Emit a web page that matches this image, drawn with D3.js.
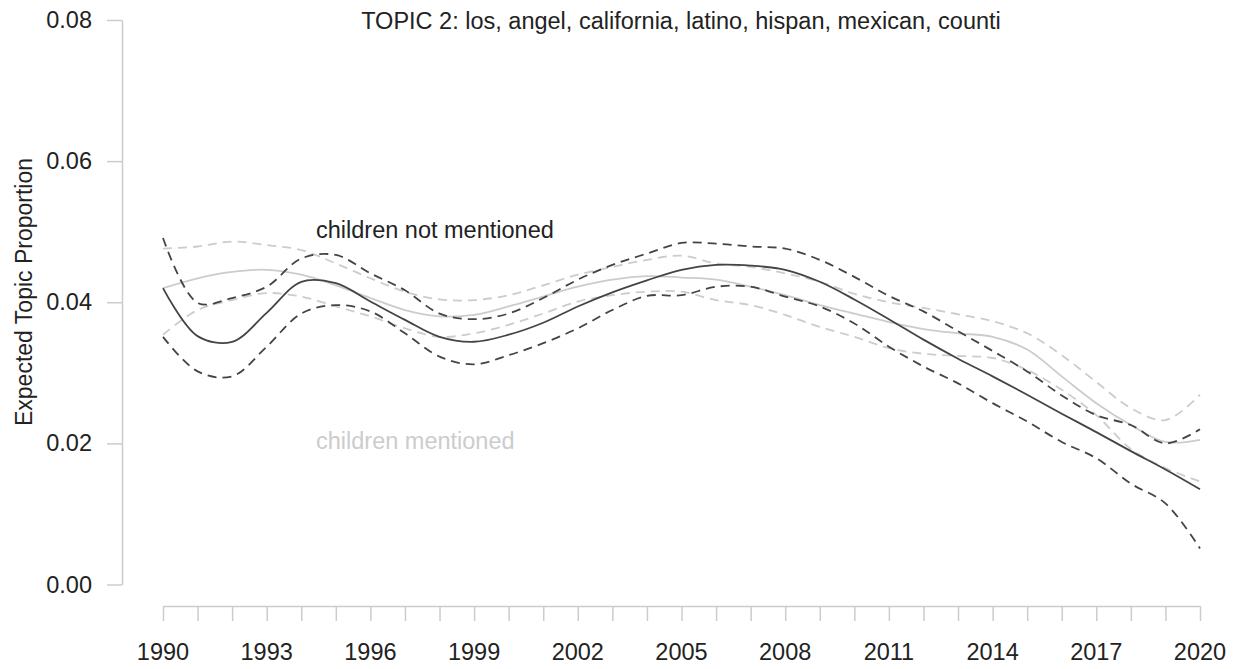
<!DOCTYPE html>
<html>
<head>
<meta charset="utf-8">
<script src="https://cdn.jsdelivr.net/npm/d3@7"></script>
<style>
  body { margin: 0; background: #fff; }
  text { font-family: "Liberation Sans", Arial, sans-serif; }
</style>
</head>
<body>
<div id="chart"></div>
<script>
// years 1990..2020
var years = d3.range(1990, 2021);
var xTickLabels = [1990, 1993, 1996, 1999, 2002, 2005, 2008, 2011, 2014, 2017, 2020];
var yTicks = [0, 0.02, 0.04, 0.06, 0.08];

// children not mentioned
var notMean = [0.0420, 0.0352, 0.0344, 0.0385, 0.0429, 0.0427, 0.0401, 0.0375, 0.0351, 0.0344, 0.0354,
    0.0371, 0.0394, 0.0414, 0.0431, 0.0446, 0.0453, 0.0452, 0.0446, 0.0429, 0.0404,
    0.0376, 0.0347, 0.0320, 0.0295, 0.0269, 0.0242, 0.0216, 0.0189, 0.0163, 0.0135];
var notUpper = [0.0491, 0.0399, 0.0406, 0.0422, 0.0462, 0.0467, 0.0441, 0.0417, 0.0384, 0.0376, 0.0384,
    0.0406, 0.0432, 0.0453, 0.0469, 0.0484, 0.0483, 0.0479, 0.0476, 0.0460, 0.0436,
    0.0409, 0.0387, 0.0359, 0.0331, 0.0302, 0.0268, 0.0240, 0.0226, 0.0200, 0.0220];
var notLower = [0.0351, 0.0302, 0.0295, 0.0337, 0.0384, 0.0396, 0.0387, 0.0356, 0.0323, 0.0312, 0.0325,
    0.0342, 0.0363, 0.0389, 0.0409, 0.0410, 0.0422, 0.0422, 0.0408, 0.0394, 0.0370,
    0.0337, 0.0309, 0.0285, 0.0257, 0.0231, 0.0202, 0.0179, 0.0143, 0.0115, 0.0051];

// children mentioned
var menMean = [0.0420, 0.0434, 0.0443, 0.0446, 0.0439, 0.0424, 0.0406, 0.0389, 0.0380, 0.0382, 0.0394,
    0.0408, 0.0422, 0.0432, 0.0437, 0.0435, 0.0432, 0.0422, 0.0410, 0.0396, 0.0384,
    0.0372, 0.0362, 0.0356, 0.0351, 0.0333, 0.0295, 0.0257, 0.0226, 0.0202, 0.0205];
var menUpper = [0.0476, 0.0479, 0.0486, 0.0481, 0.0474, 0.0455, 0.0434, 0.0415, 0.0404, 0.0403, 0.0410,
    0.0424, 0.0439, 0.0450, 0.0460, 0.0466, 0.0455, 0.0450, 0.0441, 0.0429, 0.0412,
    0.0400, 0.0392, 0.0383, 0.0373, 0.0356, 0.0325, 0.0287, 0.0250, 0.0233, 0.0269];
var menLower = [0.0354, 0.0389, 0.0403, 0.0413, 0.0408, 0.0394, 0.0380, 0.0363, 0.0351, 0.0356, 0.0368,
    0.0384, 0.0401, 0.0410, 0.0415, 0.0415, 0.0403, 0.0396, 0.0382, 0.0365, 0.0351,
    0.0335, 0.0327, 0.0324, 0.0321, 0.0304, 0.0276, 0.0240, 0.0192, 0.0165, 0.0146];

var width = 1236, height = 669;
var axisColor = '#cccccc';
var dark = '#444444', light = '#cccccc';
var textColor = '#222222';

var svg = d3.select('#chart').append('svg')
    .attr('width', width)
    .attr('height', height);

var x = d3.scaleLinear().domain([1990, 2020]).range([163, 1200]);
var y = d3.scaleLinear().domain([0, 0.08]).range([584.5, 20]);

// y axis
var yAxis = svg.append('g')
    .attr('transform', 'translate(122,0)')
    .call(d3.axisLeft(y).tickValues(yTicks).tickFormat(d3.format('.2f')).tickSize(15).tickSizeOuter(0));
yAxis.select('.domain').attr('stroke', axisColor).attr('stroke-width', 1.5);
yAxis.selectAll('.tick line').attr('stroke', axisColor).attr('stroke-width', 1.5);
yAxis.selectAll('.tick text')
    .attr('x', -30)
    .attr('fill', textColor)
    .style('font-size', '23.5px');

// x axis: a tick every year, a label every third
var xAxis = svg.append('g')
    .attr('transform', 'translate(0,606)')
    .call(d3.axisBottom(x).tickValues(years).tickFormat('').tickSize(15).tickSizeOuter(0));
xAxis.select('.domain').attr('stroke', axisColor).attr('stroke-width', 1.5);
xAxis.selectAll('.tick line').attr('stroke', axisColor).attr('stroke-width', 1.5);

svg.append('g').selectAll('text').data(xTickLabels)
    .join('text')
    .attr('x', d => x(d))
    .attr('y', 660)
    .attr('text-anchor', 'middle')
    .attr('fill', textColor)
    .style('font-size', '23.5px')
    .text(d => d);

// axis title
svg.append('text')
    .attr('transform', 'translate(32,292) rotate(-90)')
    .attr('text-anchor', 'middle')
    .attr('fill', textColor)
    .style('font-size', '23px')
    .text('Expected Topic Proportion');

// title
svg.append('text')
    .attr('x', 681)
    .attr('y', 29)
    .attr('text-anchor', 'middle')
    .attr('fill', textColor)
    .style('font-size', '23.5px')
    .text('TOPIC 2: los, angel, california, latino, hispan, mexican, counti');

var line = d3.line()
    .x((d, i) => x(years[i]))
    .y(d => y(d))
    .curve(d3.curveCatmullRom);

var series = [
    { values: menUpper, color: light, dash: '9,6' },
    { values: menLower, color: light, dash: '9,6' },
    { values: menMean, color: light, dash: null },
    { values: notUpper, color: dark, dash: '9,6' },
    { values: notLower, color: dark, dash: '9,6' },
    { values: notMean, color: dark, dash: null }
];

svg.append('g').selectAll('path').data(series)
    .join('path')
    .attr('fill', 'none')
    .attr('stroke', d => d.color)
    .attr('stroke-width', 1.8)
    .attr('stroke-dasharray', d => d.dash)
    .attr('d', d => line(d.values));

// labels
svg.append('text')
    .attr('x', 316)
    .attr('y', 238)
    .attr('fill', textColor)
    .style('font-size', '23.5px')
    .text('children not mentioned');

svg.append('text')
    .attr('x', 316)
    .attr('y', 449)
    .attr('fill', light)
    .style('font-size', '23.5px')
    .text('children mentioned');
</script>
</body>
</html>
